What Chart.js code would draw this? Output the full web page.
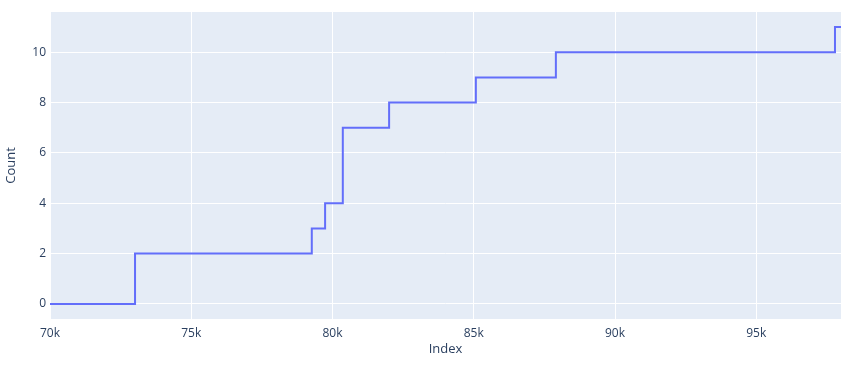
<!DOCTYPE html>
<html>
<head>
<meta charset="utf-8">
<script src="https://cdn.jsdelivr.net/npm/chart.js@4"></script>
<style>
  html, body { margin: 0; padding: 0; background: #fff; }
  #wrap { width: 854px; height: 365px; }
</style>
</head>
<body>
<div id="wrap"><canvas id="stepCanvas"></canvas></div>
<script>
// valeurs (escalier "hv")
const indexValues = [70000, 73010, 79267, 79738, 80365, 82004, 85074, 87907, 97787, 98000];
const countValues = [0, 2, 3, 4, 7, 8, 9, 10, 11, 11];
const xTicks = [70000, 75000, 80000, 85000, 90000, 95000];
const yTicks = [0, 2, 4, 6, 8, 10];

const txt = '#2a3f5f';
const fontFam = '"Open Sans", "Liberation Sans", sans-serif';

// fond du cadre du graphe façon plotly
const plotBg = {
    id: 'plotBg',
    beforeDraw(chart) {
        const { ctx, chartArea: a } = chart;
        ctx.save();
        ctx.fillStyle = '#E5ECF6';
        ctx.fillRect(a.left, a.top, a.right - a.left, a.bottom - a.top);
        ctx.restore();
    }
};

const points = indexValues.map((x, i) => ({ x: x, y: countValues[i] }));

new Chart(document.getElementById('stepCanvas'), {
    type: 'line',
    data: {
        datasets: [{
            data: points,
            stepped: true,
            borderColor: '#636EFA',
            borderWidth: 2,
            pointRadius: 0,
            fill: false
        }]
    },
    options: {
        responsive: true,
        maintainAspectRatio: false,
        animation: false,
        layout: { padding: { left: 0, right: 13, top: 12, bottom: 0 } },
        plugins: { legend: { display: false }, tooltip: { enabled: false } },
        scales: {
            x: {
                type: 'linear',
                min: 70000,
                max: 98000,
                afterFit(s) { s.height = 46; },
                afterBuildTicks(s) { s.ticks = xTicks.map(v => ({ value: v })); },
                grid: { color: '#ffffff', lineWidth: 1, drawTicks: false },
                border: { display: false },
                ticks: {
                    padding: 7,
                    maxRotation: 0,
                    color: txt,
                    font: { family: fontFam, size: 12 },
                    callback: v => (v / 1000) + 'k'
                },
                title: {
                    display: true,
                    text: 'Index',
                    color: txt,
                    font: { family: fontFam, size: 13 },
                    padding: { top: 0, bottom: 8 }
                }
            },
            y: {
                min: -0.6,
                max: 11.6,
                afterFit(s) { s.width = 50; },
                afterBuildTicks(s) { s.ticks = yTicks.map(v => ({ value: v })); },
                grid: { color: '#ffffff', lineWidth: 1, drawTicks: false },
                border: { display: false },
                ticks: {
                    padding: 4,
                    color: txt,
                    font: { family: fontFam, size: 12 }
                },
                title: {
                    display: true,
                    text: 'Count',
                    color: txt,
                    font: { family: fontFam, size: 13 },
                    padding: { top: 3, bottom: 0 }
                }
            }
        }
    },
    plugins: [plotBg]
});
</script>
</body>
</html>
